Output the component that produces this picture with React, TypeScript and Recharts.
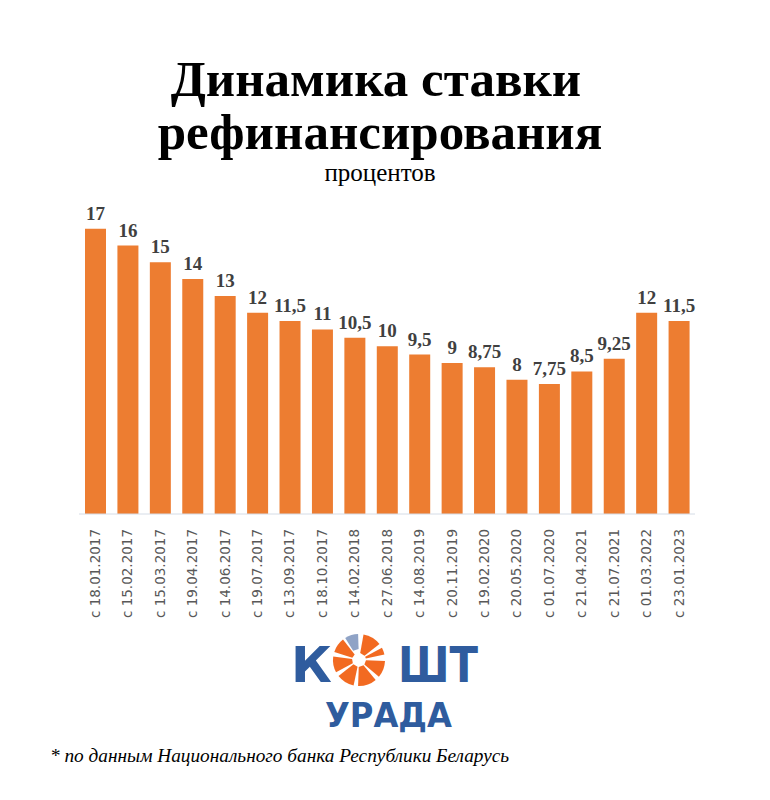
import React from "react";
import { BarChart, Bar, XAxis, YAxis, LabelList } from "recharts";

const dates = [
  "с 18.01.2017",
  "с 15.02.2017",
  "с 15.03.2017",
  "с 19.04.2017",
  "с 14.06.2017",
  "с 19.07.2017",
  "с 13.09.2017",
  "с 18.10.2017",
  "с 14.02.2018",
  "с 27.06.2018",
  "с 14.08.2019",
  "с 20.11.2019",
  "с 19.02.2020",
  "с 20.05.2020",
  "с 01.07.2020",
  "с 21.04.2021",
  "с 21.07.2021",
  "с 01.03.2022",
  "с 23.01.2023",
];

const rates = [17, 16, 15, 14, 13, 12, 11.5, 11, 10.5, 10, 9.5, 9, 8.75, 8, 7.75, 8.5, 9.25, 12, 11.5];

const data = dates.map((d, i) => ({ date: d, rate: rates[i] }));

const fmt = (v: any) => String(v).replace(".", ",");

const DateTick = ({ x, y, payload }: any) => (
  <text
    x={x}
    y={y + 7}
    transform={`rotate(-90, ${x}, ${y + 7})`}
    textAnchor="end"
    dy="0.35em"
    fill="#595959"
    fontSize={13.5}
    fontFamily="DejaVu Sans, sans-serif"
  >
    {payload.value}
  </text>
);

// logo: orange segmented "O"
const Wedges = () => {
  const cx = 359;
  const cy = 660;
  const r = 26;
  const ri = 7;
  const seg = [
    [-80, -38],
    [-28, -12],
    [2, 40],
    [50, 92],
    [102, 142],
    [152, 188],
    [198, 232],
  ];
  const p = (a: number, rr: number) =>
    `${cx + rr * Math.cos((a * Math.PI) / 180)},${cy + rr * Math.sin((a * Math.PI) / 180)}`;
  return (
    <g>
      {seg.map(([a0, a1], i) => (
        <path
          key={i}
          d={`M${p(a0, ri)} L${p(a0, r)} A${r},${r} 0 0 1 ${p(a1, r)} L${p(a1, ri)} Z`}
          fill="#F26A21"
        />
      ))}
      <path
        d={`M${p(238, ri + 4)} L${p(238, r)} A${r},${r} 0 0 1 ${p(268, r)} L${p(268, ri + 4)} Z`}
        fill="#8FA3C6"
      />
    </g>
  );
};

export default function App() {
  return (
    <div style={{ position: "absolute", left: 0, top: 0, width: 770, height: 800, background: "#fff" }}>
      <BarChart
        width={770}
        height={800}
        data={data}
        margin={{ top: 212, left: 79, right: 75, bottom: 186 }}
      >
        <XAxis
          dataKey="date"
          interval={0}
          height={100}
          tick={<DateTick />}
          tickLine={false}
          axisLine={{ stroke: "#D5DCE6" }}
        />
        <YAxis hide domain={[0, 18]} />
        <Bar dataKey="rate" fill="#ED7D31" barSize={21} isAnimationActive={false}>
          <LabelList
            dataKey="rate"
            position="top"
            offset={9}
            formatter={fmt}
            fill="#404040"
            fontSize={19}
            fontWeight="bold"
            fontFamily="Liberation Serif, serif"
          />
        </Bar>
      </BarChart>
      <svg
        width={770}
        height={800}
        style={{ position: "absolute", left: 0, top: 0, pointerEvents: "none" }}
      >
        <text x={376} y={96} textAnchor="middle" fontFamily="Liberation Serif, serif" fontWeight="bold" fontSize={51} fill="#000">
          Динамика ставки
        </text>
        <text x={380} y={149} textAnchor="middle" fontFamily="Liberation Serif, serif" fontWeight="bold" fontSize={51} fill="#000">
          рефинансирования
        </text>
        <text x={380} y={181} textAnchor="middle" fontFamily="Liberation Serif, serif" fontSize={25} fill="#000">
          процентов
        </text>
        <text x={291} y={682} fontFamily="DejaVu Sans, sans-serif" fontWeight="bold" fontSize={50} fill="#2F5C9E">
          К
        </text>
        <Wedges />
        <text
          x={398}
          y={682}
          fontFamily="DejaVu Sans, sans-serif"
          fontWeight="bold"
          fontSize={50}
          fill="#2F5C9E"
          textLength={80}
          lengthAdjust="spacingAndGlyphs"
        >
          ШТ
        </text>
        <text
          x={325}
          y={727}
          fontFamily="DejaVu Sans, sans-serif"
          fontWeight="bold"
          fontSize={34}
          fill="#2F5C9E"
          textLength={127}
          lengthAdjust="spacingAndGlyphs"
        >
          УРАДА
        </text>
        <text x={50} y={762} fontFamily="Liberation Serif, serif" fontStyle="italic" fontSize={19.3} fill="#000">
          * по данным Национального банка Республики Беларусь
        </text>
      </svg>
    </div>
  );
}
